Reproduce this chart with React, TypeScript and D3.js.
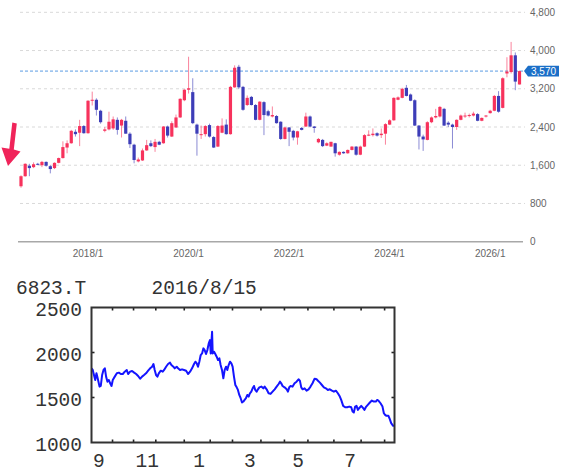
import React from 'react';
import * as d3 from 'd3';

// ---------- Top chart: monthly candles ----------
const opens = [1160,1370,1590,1560,1630,1600,1670,1580,1540,1650,1750,1970,2060,2300,2280,2420,2270,2950,2970,2740,
  2320,2350,2370,2550,2430,2530,2260,2030,1680,1700,1910,2060,1980,2090,2060,2410,2200,2390,2600,2960,
  3180,3130,2450,2230,2250,2440,2190,1990,2280,2450,2250,3230,3660,3240,2860,3030,2860,2550,2920,2730,
  2620,2630,2510,2150,2390,2320,2180,2380,2410,2620,2410,2080,2130,2010,1990,2060,1820,1880,1850,1920,
  1990,1820,1990,2230,2230,2270,2230,2260,2450,2540,2970,3010,3220,3080,2960,2430,2200,2130,2500,2600,
  2620,2780,2490,2450,2400,2550,2620,2630,2640,2670,2530,2620,2690,2740,3050,2800,3520,3550,3900,3290];
const highs = [1390,1640,1630,1660,1650,1690,1680,1600,1660,1760,2100,2120,2340,2350,2550,2440,2960,3140,3000,2760,
  2400,2720,2620,2600,2570,2620,2290,2050,1760,1950,2130,2120,2150,2110,2420,2430,2520,2660,3000,3190,
  3870,3420,2470,2430,2440,2470,2210,2440,2580,2560,3260,3690,3700,3260,3060,3050,2880,2940,2940,2760,
  2830,2650,2520,2400,2400,2340,2320,2400,2700,2640,2420,2170,2150,2080,2090,2070,1890,1890,1930,2000,
  2000,2010,2250,2330,2370,2290,2370,2480,2560,3020,3040,3220,3280,3100,2980,2440,2240,2520,2620,2780,
  2840,2800,2520,2470,2560,2660,2700,2680,2720,2690,2600,2650,2760,3070,3150,3440,3860,4180,3960,3580];
const lows = [1130,1360,1370,1540,1600,1560,1570,1430,1520,1640,1740,1850,2050,2200,2000,2260,2260,2850,2640,2470,
  2290,2330,2340,2240,2180,2260,1960,1640,1660,1690,1900,1980,1880,2020,2050,2180,2190,2380,2590,2940,
  3100,2460,1800,2150,2200,2180,1960,1980,2270,2240,2240,3220,3200,2740,2840,2850,2540,2540,2230,2620,
  2600,2470,2130,2140,2000,2120,2030,2330,2400,2400,2280,2060,1980,2000,1990,1780,1800,1840,1840,1910,
  1800,1810,1980,2210,2200,2200,2170,2030,2440,2530,2960,3000,3040,2940,2420,1930,1900,2120,2480,2580,
  2600,2420,2400,1950,2340,2540,2590,2600,2620,2520,2520,2600,2680,2730,2700,2790,3440,3520,3170,3290];
const closes = [1370,1630,1540,1620,1610,1670,1590,1520,1650,1750,1980,2060,2320,2250,2420,2270,2950,2970,2760,2500,
  2350,2510,2560,2340,2550,2260,2040,1710,1720,1910,2020,2000,2090,2030,2410,2220,2480,2600,2990,3180,
  3210,2480,2260,2250,2420,2200,1970,2420,2430,2250,3240,3640,3230,2760,3010,2860,2550,2930,2650,2640,
  2650,2480,2150,2390,2300,2180,2310,2340,2620,2410,2380,2150,2000,2060,2090,1850,1880,1850,1920,1990,
  1820,1990,2230,2240,2260,2220,2260,2460,2540,3010,3020,3200,3050,2950,2430,2200,2140,2500,2600,2630,
  2820,2430,2450,2400,2550,2640,2640,2650,2680,2530,2590,2640,2740,3050,2720,3420,3560,3900,3350,3570];
const yearTickIndex = [16, 40, 64, 88, 112];
const yearTickLabels = ['2018/1', '2020/1', '2022/1', '2024/1', '2026/1'];
const priceTicks = [0, 800, 1600, 2400, 3200, 4000, 4800];
const currentPrice = 3570;

// ---------- Bottom chart: daily line ----------
const lineDays = [0,1,2,3,4,5,6.5,7.5,8.6,9.7,10.8,11.8,12.9,14,15.1,16.2,17.2,18.8,20.5,22.1,23.7,25.3,26.9,28.5,29.6,
  31.2,32.8,34.5,36.1,37.7,39.3,40.9,42.5,44.1,45.8,47.4,49,50.1,51.1,52.2,53.3,54.4,56,57.6,58.7,60.3,61.9,63.5,64.6,
  66.2,67.3,68.9,70,71.6,73.2,74.8,76.5,78.1,79.7,81.3,82.9,84,85.1,86.1,87.2,88.3,89.4,90.5,91.5,92.6,93.7,94.8,95.8,
  96.4,97.5,98,99.1,100.1,101.2,102.3,103.4,104.4,105.5,106.6,107.7,108.8,109.8,110.9,112,113.1,114.1,115.2,116.3,
  117.4,118.4,119.5,120.6,121.7,122.8,123.8,124.9,126,127.1,128.1,129.2,130.3,131.4,132.4,133.5,134.6,135.7,137.3,
  138.9,140,141.6,143.2,144.8,146.4,148.1,149.7,151.3,152.4,153.4,154.5,156.1,157.8,158.8,159.9,161,162.6,164.2,
  165.8,167.4,168.5,169.6,170.7,172.3,173.9,175.5,177.1,178.7,180.4,182,183.1,184.7,186.3,187.9,189.5,191.1,192.7,
  194.4,196,197.6,199.2,200.8,201.9,203.5,205.1,206.7,208.4,210,211.1,212.1,213.2,214.3,215.4,216.4,218.1,219.7,
  220.7,221.8,223.4,225.1,226.7,228.3,229.9,231,232,233.7,235.3,236.4,237.4,238.5,240.1,241.2,242.3,243.9,245];
const linePrices = [1824,1806,1750,1695,1769,1713,1621,1628,1750,1806,1824,1732,1676,1695,1658,1628,1695,1732,1769,1776,
  1761,1761,1787,1806,1761,1787,1794,1776,1761,1739,1709,1732,1750,1769,1798,1824,1842,1872,1806,1750,1732,1769,1798,
  1787,1806,1842,1872,1887,1861,1842,1824,1842,1824,1806,1813,1806,1798,1761,1787,1824,1872,1898,1879,1842,1898,1972,
  1990,2046,2027,1983,2027,2101,2138,1990,2230,1990,2009,1983,1953,1916,1935,1861,1806,1713,1806,1842,1806,1861,1898,
  1879,1842,1732,1639,1613,1584,1528,1492,1444,1455,1473,1492,1528,1510,1547,1565,1602,1628,1584,1565,1591,1613,1621,
  1602,1621,1591,1547,1540,1565,1591,1621,1650,1676,1658,1628,1613,1591,1565,1613,1628,1621,1658,1676,1702,1687,1613,
  1591,1602,1576,1591,1621,1658,1709,1702,1687,1665,1639,1613,1602,1584,1591,1576,1565,1576,1547,1510,1473,1407,1392,
  1392,1399,1392,1344,1333,1399,1407,1362,1381,1407,1381,1362,1392,1418,1444,1466,1455,1455,1473,1466,1436,1399,1325,
  1307,1296,1296,1259,1215,1185,1185];
const monthTickDays = [17, 34, 52, 75, 96, 114, 137, 156, 175, 196, 218, 237];
const monthLabelDays = [6, 45, 87, 128, 167, 209];
const monthLabels = ['9', '11', '1', '3', '5', '7'];
const lineYTicks = [1000, 1500, 2000, 2500];
const lineTicker = '6823.T';
const lineDate = '2016/8/15';

const RED = '#f7325c';
const BLUE = '#3d3db8';

export default function App() {
  // top scales
  const x = d3.scaleLinear().domain([0, closes.length - 1]).range([21, 519.5]);
  const y = d3.scaleLinear().domain([0, 4800]).range([241.7, 12.3]);
  const fmt = d3.format(',');

  // bottom scales
  const bx = d3.scaleLinear().domain([0, 245]).range([91.5, 394.5]);
  const by = d3.scaleLinear().domain([1000, 2500]).range([442.5, 307.5]);
  const pts = lineDays.map((d, i) => [d, linePrices[i]] as [number, number]);
  const line = d3.line<[number, number]>().x(d => bx(d[0])).y(d => by(d[1]));

  const yCur = y(currentPrice);

  return (
    <svg width={567} height={476} style={{ position: 'absolute', left: 0, top: 0, background: '#fff' }}
      fontFamily="'Liberation Sans', Arial, sans-serif">
      {/* grid */}
      {priceTicks.filter(t => t > 0).map(t => (
        <line key={'g' + t} x1={20} x2={525} y1={y(t)} y2={y(t)} stroke="#d9d9d9" strokeDasharray="3,3" strokeWidth={1} />
      ))}
      {/* axis line */}
      <line x1={18} x2={523} y1={y(0)} y2={y(0)} stroke="#a8a8a8" strokeWidth={1.5} />
      {/* y labels */}
      {priceTicks.map(t => (
        <text key={'yl' + t} x={530} y={y(t) + 3.5} fontSize={10} fill="#666">{fmt(t)}</text>
      ))}
      {/* x labels */}
      {yearTickIndex.map((idx, k) => (
        <text key={'xl' + k} x={x(idx)} y={257} fontSize={10} fill="#666" textAnchor="middle">{yearTickLabels[k]}</text>
      ))}
      {/* current price line */}
      <line x1={20} x2={525} y1={yCur} y2={yCur} stroke="#5b9be3" strokeDasharray="3,2" strokeWidth={1} />
      {/* candles */}
      {closes.map((c, i) => {
        const o = opens[i];
        const up = c >= o;
        const col = up ? RED : BLUE;
        const top = y(Math.max(o, c));
        const bot = y(Math.min(o, c));
        const cx = x(i);
        return (
          <g key={'c' + i}>
            <line x1={cx} x2={cx} y1={y(highs[i])} y2={y(lows[i])} stroke={col} strokeOpacity={0.6} strokeWidth={1} />
            <rect x={cx - 1.6} y={top} width={3.2} height={Math.max(1, bot - top)} fill={col} />
          </g>
        );
      })}
      {/* price badge */}
      <path d={`M${524},${yCur} L${528},${yCur - 5.3} L${559},${yCur - 5.3} L${559},${yCur + 5.3} L${528},${yCur + 5.3} Z`} fill="#1b6fc8" />
      <text x={543.5} y={yCur + 3.6} fontSize={10} fill="#fff" textAnchor="middle">{fmt(currentPrice)}</text>
      {/* red arrow */}
      <path d="M12.3,122.5 L16.8,123.5 L13.8,149.5 L20.5,151.5 L8,166 L1.5,147.5 L9.3,148.8 Z" fill="#f0245a" />

      {/* ---------- bottom chart ---------- */}
      <g fontFamily="'Liberation Mono', 'DejaVu Sans Mono', monospace" fill="#333" fontSize={19.5}>
        <text x={16} y={293.5}>{lineTicker}</text>
        <text x={151.5} y={293.5}>{lineDate}</text>
        {lineYTicks.map(t => (
          <text key={'by' + t} x={82} y={by(t) + 8.7} textAnchor="end">{t}</text>
        ))}
        {monthLabelDays.map((d, k) => (
          <text key={'bm' + k} x={bx(d)} y={466.5} textAnchor="middle">{monthLabels[k]}</text>
        ))}
      </g>
      <path d={line(pts) || ''} fill="none" stroke="#1414ff" strokeWidth={2} strokeLinejoin="round" />
      {monthTickDays.map((d, k) => (
        <g key={'bt' + k}>
          <line x1={bx(d)} x2={bx(d)} y1={by(2500)} y2={by(2500) + 3} stroke="#222" strokeWidth={1.6} />
          <line x1={bx(d)} x2={bx(d)} y1={by(1000)} y2={by(1000) - 3} stroke="#222" strokeWidth={1.6} />
        </g>
      ))}
      {lineYTicks.filter(t => t > 1000 && t < 2500).map(t => (
        <g key={'byt' + t}>
          <line x1={bx(245)} x2={bx(245) - 3} y1={by(t)} y2={by(t)} stroke="#222" strokeWidth={1.6} />
          <line x1={bx(0)} x2={bx(0) + 3} y1={by(t)} y2={by(t)} stroke="#222" strokeWidth={1.6} />
        </g>
      ))}
      <rect x={bx(0)} y={by(2500)} width={bx(245) - bx(0)} height={by(1000) - by(2500)} fill="none" stroke="#333" strokeWidth={2} />
    </svg>
  );
}
